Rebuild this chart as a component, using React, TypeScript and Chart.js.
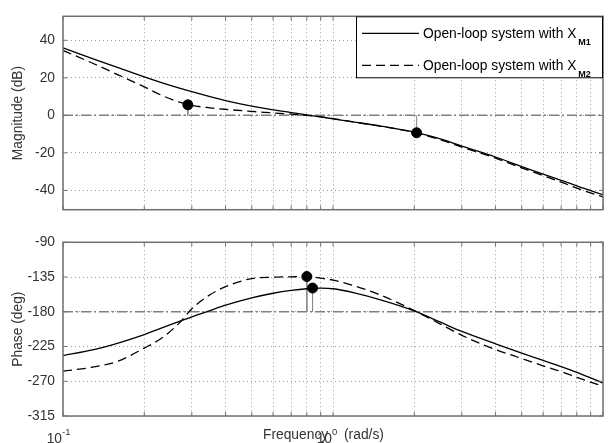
import React, { useEffect, useRef } from "react";
import { Chart, registerables } from "chart.js";

Chart.register(...registerables);

const FONT = '"Liberation Sans", Arial, Helvetica, sans-serif';
const FS = 13.8;

// ---- data ----
const freqs = [0.1, 0.13, 0.16, 0.2, 0.23, 0.27, 0.3, 0.35, 0.4, 0.5, 0.6, 0.7, 0.8, 0.9, 1.0, 1.2, 1.5, 2, 2.5, 3, 4, 5, 6, 7, 8, 10];
const magM1 = [36, 30.0, 25.4, 20.5, 17.6, 14.5, 12.6, 10.0, 7.9, 4.9, 2.9, 1.5, 0.3, -0.85, -1.85, -3.6, -5.7, -9.0, -12.6, -16.4, -22.2, -27.3, -31.3, -34.6, -37.6, -42.3];
const magM2 = [34.6, 27.5, 21.6, 15.2, 10.9, 7.0, 5.3, 4.0, 3.2, 2.1, 1.3, 0.6, 0.0, -0.8, -1.7, -3.6, -5.8, -9.1, -13.0, -16.9, -22.8, -28.0, -32.1, -35.6, -38.8, -43.5];
const phaseM1 = [-236.7, -229, -220.5, -209.5, -201.5, -192.5, -186.5, -178.5, -171.5, -162, -156, -152.3, -150.2, -149.5, -150.2, -155.5, -164.5, -178.8, -193.5, -205.5, -221.5, -233.5, -243, -251, -258.5, -272.3];
const phaseM2 = [-257, -251.5, -244, -227, -215, -194.4, -176, -158, -147.5, -137, -135.3, -134.7, -134.4, -136.5, -139, -146.5, -158.4, -178.5, -196, -210.5, -229, -240.5, -250, -257.5, -265, -276.5];

const magMarkerFreq = [0.29, 2.04];
const magMarkerValue = [5.6, -9.3];
const phaseMarkerFreq = [0.8, 0.84];
const phaseMarkerValue = [-134.4, -149.3];

const magReference = 0;
const phaseReference = -180;

const freqRange = [0.1, 10];
const magRange = [-50.3, 52.8];
const phaseRange = [-315, -90];

const magTicks = [40, 20, 0, -20, -40];
const phaseTicks = [-90, -135, -180, -225, -270, -315];
const freqGrid = [0.1, 0.2, 0.3, 0.4, 0.5, 0.6, 0.7, 0.8, 0.9, 1, 2, 3, 4, 5, 6, 7, 8, 9, 10];
const freqLabelValues = [0.1, 1];
const freqLabelExponents = ["-1", "0"];

const legendLabels = ["Open-loop system with X", "Open-loop system with X"];
const legendSubscripts = ["M1", "M2"];
const magTitle = "Magnitude (dB)";
const phaseTitle = "Phase (deg)";
const freqTitle = "Frequency (rad/s)";

// ---- helpers ----
const pts = (xs: number[], ys: number[]) => xs.map((x, i) => ({ x, y: ys[i] }));

function buildDatasets(c1: number[], c2: number[], mf: number[], mv: number[], ref: number) {
  return [
    {
      data: pts(mf, mv),
      showLine: false,
      pointRadius: 5,
      pointBackgroundColor: "#000",
      pointBorderColor: "#000",
      borderColor: "#000",
      order: 0,
    },
    {
      data: pts(freqs, c1),
      borderColor: "#000",
      borderWidth: 1.3,
      pointRadius: 0,
      cubicInterpolationMode: "monotone",
      order: 1,
    },
    {
      data: pts(freqs, c2),
      borderColor: "#000",
      borderWidth: 1.3,
      borderDash: [9, 5],
      pointRadius: 0,
      cubicInterpolationMode: "monotone",
      order: 1,
    },
    ...mf.map((f, i) => ({
      data: [
        { x: f, y: mv[i] },
        { x: f, y: ref },
      ],
      borderColor: "#8a8a8a",
      borderWidth: 1,
      pointRadius: 0,
      order: 2,
    })),
    {
      data: [
        { x: freqRange[0], y: ref },
        { x: freqRange[1], y: ref },
      ],
      borderColor: "#808080",
      borderWidth: 1.5,
      borderDash: [10, 3, 2, 3],
      pointRadius: 0,
      order: 3,
    },
  ];
}

function xScale(height: number) {
  return {
    type: "logarithmic",
    min: freqRange[0],
    max: freqRange[1],
    afterBuildTicks: (s: any) => {
      s.ticks = freqGrid.map((v) => ({ value: v }));
    },
    afterFit: (s: any) => {
      s.height = height;
    },
    ticks: { display: false },
    grid: { color: "#9a9a9a", lineWidth: 1, drawTicks: false },
    border: { display: false, dash: [1, 3] },
  };
}

function yScale(range: number[], ticks: number[], title: string) {
  return {
    type: "linear",
    min: range[0],
    max: range[1],
    afterBuildTicks: (s: any) => {
      s.ticks = ticks.map((v) => ({ value: v }));
    },
    afterFit: (s: any) => {
      s.width = 63;
    },
    ticks: { color: "#333", font: { family: FONT, size: FS }, padding: 8, autoSkip: false },
    grid: { color: "#9a9a9a", lineWidth: 1, drawTicks: false },
    border: { display: false, dash: [1, 3] },
    title: {
      display: true,
      text: title,
      color: "#333",
      font: { family: FONT, size: FS },
      padding: { top: 10, bottom: 0 },
    },
  };
}

const boxPlugin = {
  id: "bodeBox",
  afterDatasetsDraw(chart: any) {
    const { ctx, chartArea: a, scales } = chart;
    ctx.save();
    ctx.strokeStyle = "#707070";
    ctx.lineWidth = 1;
    ctx.setLineDash([]);
    ctx.beginPath();
    freqGrid.forEach((v) => {
      const px = scales.x.getPixelForValue(v);
      ctx.moveTo(px, a.top);
      ctx.lineTo(px, a.top + 4);
      ctx.moveTo(px, a.bottom);
      ctx.lineTo(px, a.bottom - 4);
    });
    scales.y.ticks.forEach((t: any) => {
      const py = scales.y.getPixelForValue(t.value);
      ctx.moveTo(a.left, py);
      ctx.lineTo(a.left + 4, py);
      ctx.moveTo(a.right, py);
      ctx.lineTo(a.right - 4, py);
    });
    ctx.stroke();
    ctx.lineWidth = 1.5;
    ctx.strokeRect(a.left, a.top, a.right - a.left, a.bottom - a.top);
    ctx.restore();
  },
};

const legendPlugin = {
  id: "bodeLegend",
  afterDraw(chart: any) {
    const { ctx, chartArea: a } = chart;
    const w = 247;
    const h = 62;
    const left = a.right - w;
    const top = a.top;
    ctx.save();
    ctx.fillStyle = "#fff";
    ctx.fillRect(left, top, w, h);
    ctx.strokeStyle = "#000";
    ctx.lineWidth = 1;
    ctx.strokeRect(left + 0.5, top + 0.5, w - 1, h - 1);
    legendLabels.forEach((lbl, i) => {
      const y = top + 17 + i * 32;
      ctx.beginPath();
      ctx.setLineDash(i === 0 ? [] : [9, 5]);
      ctx.lineWidth = 1.3;
      ctx.moveTo(left + 6, y);
      ctx.lineTo(left + 63, y);
      ctx.stroke();
      ctx.setLineDash([]);
      ctx.fillStyle = "#000";
      ctx.font = `${FS}px ${FONT}`;
      ctx.textBaseline = "alphabetic";
      ctx.textAlign = "left";
      ctx.fillText(lbl, left + 67, y + 5);
      const tw = ctx.measureText(lbl).width;
      ctx.font = `bold 9px ${FONT}`;
      ctx.fillText(legendSubscripts[i], left + 67 + tw + 2, y + 12);
    });
    ctx.restore();
  },
};

const freqAxisPlugin = {
  id: "freqAxis",
  afterDraw(chart: any) {
    const { ctx, chartArea: a, scales } = chart;
    const H = chart.height;
    ctx.save();
    ctx.fillStyle = "#333";
    ctx.textBaseline = "alphabetic";
    freqLabelValues.forEach((v, i) => {
      const px = scales.x.getPixelForValue(v);
      ctx.font = `${FS}px ${FONT}`;
      ctx.textAlign = "right";
      ctx.fillText("10", px - 1, H);
      ctx.font = `9.5px ${FONT}`;
      ctx.textAlign = "left";
      ctx.fillText(freqLabelExponents[i], px - 1, H - 8);
    });
    ctx.font = `${FS}px ${FONT}`;
    ctx.textAlign = "left";
    (ctx as any).wordSpacing = "12px";
    ctx.fillText(freqTitle, (a.left + a.right) / 2 - 70, H - 4);
    (ctx as any).wordSpacing = "0px";
    ctx.restore();
  },
};

function makeConfig(datasets: any[], yOpts: any, xHeight: number, padTop: number, plugins: any[]) {
  return {
    type: "line",
    data: { datasets },
    options: {
      responsive: false,
      animation: false,
      events: [],
      layout: { padding: { top: padTop, right: 2, left: 0, bottom: 0 } },
      plugins: { legend: { display: false }, tooltip: { enabled: false } },
      scales: { x: xScale(xHeight), y: yOpts },
    },
    plugins,
  } as any;
}

export default function App() {
  const magRef = useRef<HTMLCanvasElement>(null);
  const phRef = useRef<HTMLCanvasElement>(null);

  useEffect(() => {
    Chart.defaults.font.family = FONT;
    const c1 = new Chart(
      magRef.current!,
      makeConfig(
        buildDatasets(magM1, magM2, magMarkerFreq, magMarkerValue, magReference),
        yScale(magRange, magTicks, magTitle),
        8,
        8,
        [boxPlugin, legendPlugin]
      )
    );
    const c2 = new Chart(
      phRef.current!,
      makeConfig(
        buildDatasets(phaseM1, phaseM2, phaseMarkerFreq, phaseMarkerValue, phaseReference),
        yScale(phaseRange, phaseTicks, phaseTitle),
        27,
        9,
        [boxPlugin, freqAxisPlugin]
      )
    );
    return () => {
      c1.destroy();
      c2.destroy();
    };
  }, []);

  return (
    <div style={{ position: "fixed", left: 0, top: 0, width: 609, height: 443, background: "#fff", overflow: "hidden" }}>
      <canvas ref={magRef} width={609} height={226} style={{ position: "absolute", left: 0, top: 0, display: "block" }} />
      <canvas ref={phRef} width={609} height={217} style={{ position: "absolute", left: 0, top: 226, display: "block" }} />
    </div>
  );
}
